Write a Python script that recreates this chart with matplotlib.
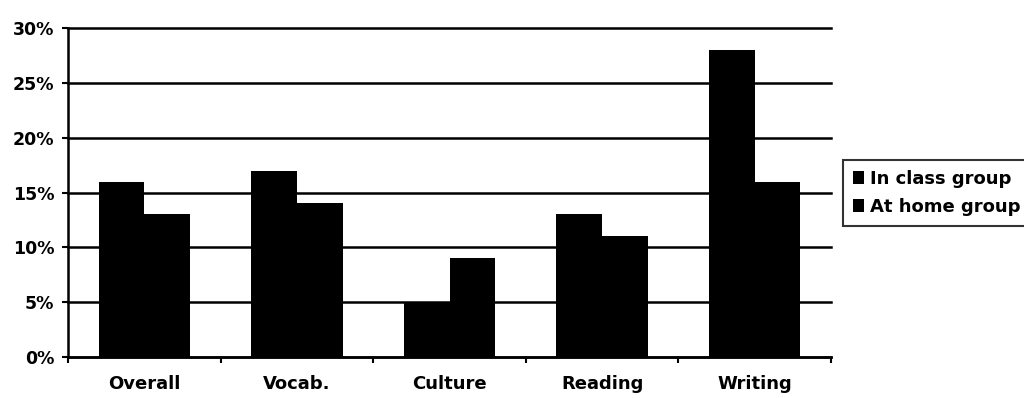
import matplotlib
matplotlib.use("Agg")
import matplotlib.pyplot as plt
import numpy as np

categories = ["Overall", "Vocab.", "Culture", "Reading", "Writing"]
in_class = [16, 17, 5, 13, 28]
at_home = [13, 14, 9, 11, 16]
series_names = ["In class group", "At home group"]
y_ticks = [0, 5, 10, 15, 20, 25, 30]
y_tick_labels = ["0%", "5%", "10%", "15%", "20%", "25%", "30%"]

plt.rcParams["font.family"] = ["DejaVu Sans"]
plt.rcParams["font.weight"] = "bold"

fig = plt.figure(figsize=(10.24, 3.98), dpi=100)
ax = fig.add_axes([68 / 1024, 41 / 398, (831 - 68) / 1024, (357 - 28) / 398])

x = np.arange(len(categories))
w = 0.3
ax.bar(x - w / 2, in_class, w, color="black", label=series_names[0], zorder=3)
ax.bar(x + w / 2, at_home, w, color="black", label=series_names[1], zorder=3)

ax.set_xlim(-0.5, len(categories) - 0.5)
ax.set_ylim(0, 30)
ax.set_yticks(y_ticks)
ax.set_yticklabels(y_tick_labels, fontsize=12.5, fontweight="bold")
ax.set_xticks(x)
ax.set_xticklabels(categories, fontsize=13, fontweight="bold")
ax.set_xticks(np.arange(len(categories) + 1) - 0.5, minor=True)

ax.tick_params(axis="x", which="major", length=0, pad=13)
ax.tick_params(axis="x", which="minor", length=4, width=1.5, direction="out")
ax.tick_params(axis="y", length=4, width=1.5, direction="out", pad=6)

ax.grid(axis="y", color="black", linewidth=1.8, zorder=1)
ax.set_axisbelow(True)
for line in ax.get_ygridlines():
    line.set_clip_on(False)
for s in ["top", "right"]:
    ax.spines[s].set_visible(False)
for s in ["left", "bottom"]:
    ax.spines[s].set_linewidth(1.8)
    ax.spines[s].set_zorder(4)

leg = fig.legend(
    loc="center left",
    bbox_to_anchor=(843 / 1024, (398 - 193) / 398),
    prop={"size": 13, "weight": "bold"},
    frameon=True,
    fancybox=False,
    edgecolor="black",
    handlelength=0.6,
    handleheight=0.7,
    handletextpad=0.35,
    borderpad=0.55,
    labelspacing=0.55,
    borderaxespad=0,
)
leg.get_frame().set_linewidth(1.5)

fig.savefig("out.png", dpi=100)
